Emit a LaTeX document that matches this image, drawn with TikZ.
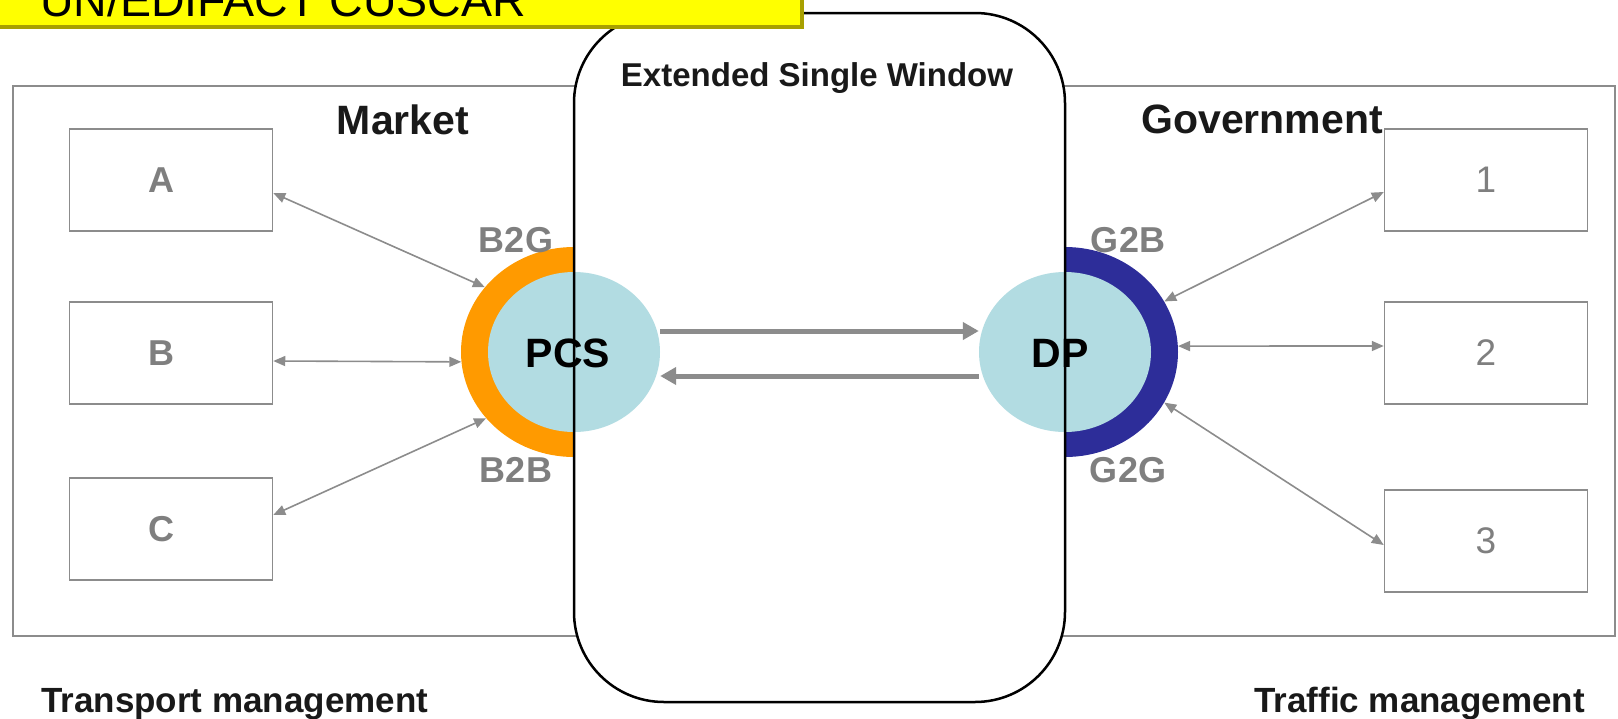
\documentclass[tikz,border=0pt]{standalone}
\usepackage{fontspec}
\setmainfont{Liberation Sans}
\usetikzlibrary{arrows.meta,shapes.geometric}

\definecolor{ringorange}{HTML}{FF9A00}
\definecolor{ringblue}{HTML}{2D2D99}
\definecolor{hubblue}{HTML}{B2DCE2}
\definecolor{linegray}{HTML}{8C8C8C}
\definecolor{labelgray}{HTML}{7F7F7F}
\definecolor{titleyellow}{HTML}{FFFF00}
\definecolor{titleedge}{HTML}{A8A000}

\tikzset{
  party/.style={draw=linegray, line width=1.5pt, minimum width=203pt, minimum height=102pt, inner sep=0pt, text=labelgray},
  letter/.style={text=labelgray, inner sep=0pt, xshift=-10pt, font=\bfseries\fontsize{36pt}{36pt}\selectfont},
  hub/.style={ellipse, fill=hubblue, minimum width=172pt, minimum height=160pt, inner sep=0pt},
  ring/.style={ellipse, minimum width=226pt, minimum height=210pt, inner sep=0pt},
  link/.style={draw=linegray, line width=1.6pt, {Triangle[length=12pt,width=10pt]}-{Triangle[length=12pt,width=10pt]}},
  flow/.style={draw=linegray, line width=5pt, -{Triangle[length=16pt,width=17pt]}},
  tag/.style={text=labelgray, font=\bfseries\fontsize{36pt}{36pt}\selectfont, anchor=base, inner sep=0pt},
  side/.style={text=black!90, font=\bfseries\fontsize{41pt}{41pt}\selectfont, anchor=base, inner sep=0pt},
  hubname/.style={font=\bfseries\fontsize{41pt}{41pt}\selectfont, anchor=base, inner sep=0pt},
}

\begin{document}
\begin{tikzpicture}[x=1pt,y=-1pt]
	\useasboundingbox (0,0) rectangle (1618,718);
	% frame and window background
	\draw[linegray, line width=2pt] (13,86) rectangle (1615,636);
	\fill[white, rounded corners=90pt] (574,13) rectangle (1065,702);

	% market side
	\node[party, label={[letter]center:A}] (A) at (171,180) {};
	\node[party, label={[letter]center:B}] (B) at (171,353) {};
	\node[party, label={[letter]center:C}] (C) at (171,529) {};

	% government side
	\node[party, font=\fontsize{37pt}{37pt}\selectfont] (n1) at (1486,180) {1};
	\node[party, font=\fontsize{37pt}{37pt}\selectfont] (n2) at (1486,353) {2};
	\node[party, font=\fontsize{37pt}{37pt}\selectfont] (n3) at (1486,541) {3};

	% hubs
	\begin{scope}
		\clip (0,0) rectangle (574,718);
		\node[ring, fill=ringorange] (pcsring) at (574,352) {};
	\end{scope}
	\begin{scope}
		\clip (1065,0) rectangle (1618,718);
		\node[ring, fill=ringblue] (dpring) at (1065,352) {};
	\end{scope}
	\node[hub] (pcs) at (574,352) {};
	\node[hub] (dp) at (1065,352) {};

	\draw[line width=2.5pt, rounded corners=90pt] (574,13) rectangle (1065,702);

	\node[hubname] (pcstext) at (568,367) {PCS};
	\node[hubname] (dptext) at (1060,367) {DP};

	\node[tag] (b2g) at (516,252) {B2G};
	\node[tag] (b2b) at (516,482) {B2B};
	\node[tag] (g2b) at (1128,252) {G2B};
	\node[tag] (g2g) at (1128,482) {G2G};

	% headings
	\node[side] (market) at (403,134) {Market};
	\node[side] (gov) at (1262,133) {Government};
	\node[side, font=\bfseries\fontsize{33pt}{33pt}\selectfont] (esw) at (817,86) {Extended Single Window};
	\node[side, anchor=base west, font=\bfseries\fontsize{35pt}{35pt}\selectfont] (transport) at (41,712) {Transport management};
	\node[side, anchor=base west, font=\bfseries\fontsize{35pt}{35pt}\selectfont] (traffic) at (1254,712) {Traffic management};

	% connectors
	\draw[link] ([yshift=-13pt]A.east) -- (pcsring.144);
	\draw[link] ([yshift=-8pt]B.east) -- (pcsring.185);
	\draw[link] ([yshift=14pt]C.east) -- (pcsring.217);
	\draw[link] ([yshift=-12pt]n1.west) -- (dpring.27);
	\draw[link] ([yshift=7pt]n2.west) -- (dpring.3);
	\draw[link] ([yshift=-4pt]n3.west) -- (dpring.333);

	\draw[flow] ([yshift=21pt]pcs.east) -- ([yshift=21pt]dp.west);
	\draw[flow] ([yshift=-24pt]dp.west) -- ([yshift=-24pt]pcs.east);

	% title strip
	\fill[titleedge] (-4,-4) rectangle (804,29);
	\fill[titleyellow] (-4,-4) rectangle (800,25);
	\node[anchor=base west, inner sep=0pt, font=\fontsize{46.5pt}{46.5pt}\selectfont] (title) at (40,16) {UN/EDIFACT CUSCAR};
\end{tikzpicture}
\end{document}
